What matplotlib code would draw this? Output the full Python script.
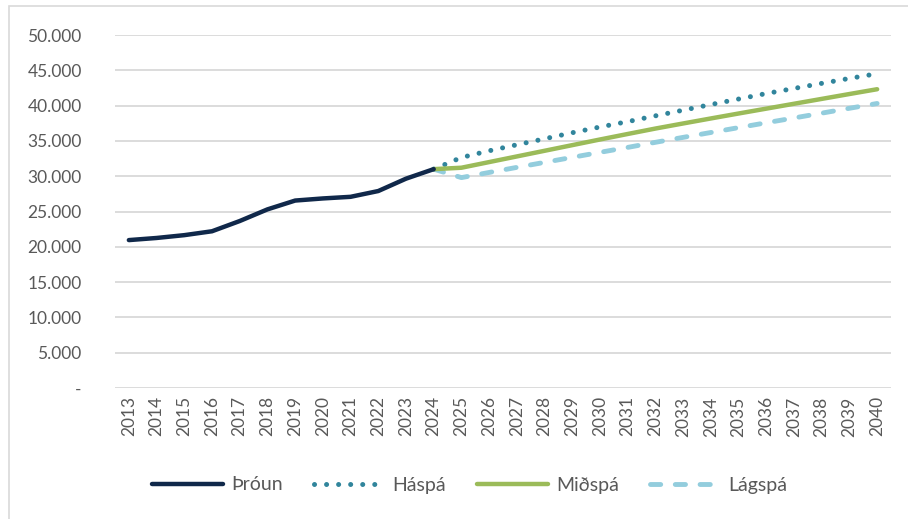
import matplotlib.pyplot as plt
from matplotlib.patches import Rectangle
from matplotlib.ticker import FuncFormatter

# ===== DATA =====
years = list(range(2013, 2041))
throun_years = list(range(2013, 2025))
throun = [20950, 21250, 21650, 22200, 23650, 25300, 26550, 26850, 27080,
          27900, 29650, 31000]
spa_years = list(range(2024, 2041))
haspa = [31000, 32650, 33600, 34450, 35300, 36160, 36970, 37730, 38550,
         39350, 40150, 40930, 41710, 42430, 43150, 43850, 44520]
midspa = [31000, 31200, 32000, 32800, 33600, 34400, 35200, 35980, 36750,
          37470, 38180, 38880, 39570, 40260, 40950, 41640, 42320]
lagspa = [31000, 29800, 30530, 31250, 31960, 32670, 33380, 34080, 34800,
          35500, 36190, 36880, 37570, 38250, 38930, 39620, 40300]
yticks = [0, 5000, 10000, 15000, 20000, 25000, 30000, 35000, 40000, 45000, 50000]
# ================

W, H = 908, 519
plt.rcParams['font.family'] = ['Lato', 'DejaVu Sans']
txt = '#595959'

fig = plt.figure(figsize=(W / 100, H / 100), dpi=100)
ax = fig.add_axes([115 / W, 1 - 388 / H, (891 - 115) / W, (388 - 35) / H])

# frame of the chart area
fig.patches.append(Rectangle((8.5 / W, -0.1), 1.2, 1 - 6 / H + 0.1,
                             transform=fig.transFigure, fill=False,
                             edgecolor='#d9d9d9', linewidth=1.2))

def pos(yrs):
    return [y - 2013 for y in yrs]

ax.plot(pos(throun_years), throun, color='#10284a', lw=3.2,
        solid_capstyle='round', solid_joinstyle='round', label='Þróun', zorder=5)
ax.plot(pos(spa_years), haspa, color='#31859c', lw=3.6, linestyle=(0, (0.01, 2.4)),
        dash_capstyle='round', label='Háspá', zorder=4)
ax.plot(pos(spa_years), midspa, color='#9bbb59', lw=3.2,
        solid_capstyle='round', solid_joinstyle='round', label='Miðspá', zorder=4)
ax.plot(pos(spa_years), lagspa, color='#93cddd', lw=3.5, linestyle=(0, (2.1, 3.0)),
        dash_capstyle='round', label='Lágspá', zorder=3)

ax.set_xlim(-0.5, len(years) - 0.5)
ax.set_ylim(0, 50000)
ax.set_xticks(range(len(years)))
ax.set_xticklabels([str(y) for y in years], rotation=90)
ax.set_yticks(yticks)
ax.yaxis.set_major_formatter(FuncFormatter(
    lambda v, p: '-' if v == 0 else f'{int(v):,}'.replace(',', '.')))
ax.grid(axis='y', color='#d9d9d9', linewidth=1.3)
ax.set_axisbelow(True)
for s in ax.spines.values():
    s.set_visible(False)
ax.tick_params(axis='both', length=0, labelsize=12.5, colors=txt)
ax.tick_params(axis='y', pad=24)
ax.tick_params(axis='x', pad=6)

leg = fig.legend(loc='center', bbox_to_anchor=(470 / W, 1 - 485 / H), ncol=4,
                 frameon=False, fontsize=14, handlelength=3.65, handletextpad=0.4,
                 columnspacing=1.6, labelcolor=txt)

fig.savefig('out.png', dpi=100)
